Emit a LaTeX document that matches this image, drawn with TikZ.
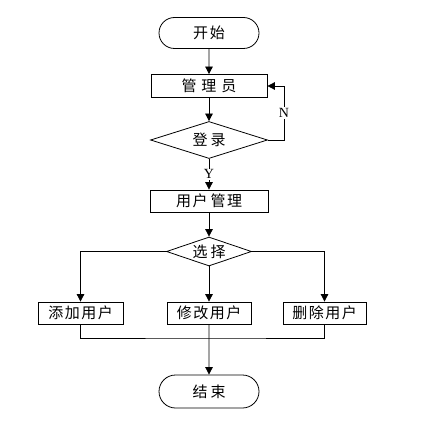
\documentclass[tikz,border=0pt]{standalone}
\usepackage{fontspec}
\setmainfont{Noto Sans CJK SC}
\newfontfamily\latf{Liberation Serif}
\usetikzlibrary{arrows.meta,shapes.geometric,shapes.misc}
\newcommand\gp[1]{\hspace{#1pt}}
\begin{document}
\begin{tikzpicture}[x=1pt,y=-1pt,
  every node/.style={font=\fontsize{15}{17}\selectfont, inner sep=0pt},
  term/.style={draw, rounded rectangle, minimum width=100pt, minimum height=31pt, line width=0.8pt},
  proc/.style={draw, rectangle, minimum height=22pt, line width=0.8pt},
  dec/.style={draw, diamond, aspect=3, line width=0.8pt},
  arr/.style={line width=0.8pt, -{Triangle[length=7.5pt,width=7.5pt]}},
  ln/.style={line width=0.8pt},
  lab/.style={fill=white, font=\latf\fontsize{14}{16}\selectfont, inner sep=1pt}]
\useasboundingbox (0,0) rectangle (422,422);
\node[term] (start) at (209,33) {开\gp{2}始};
\node[proc, minimum width=116pt, minimum height=23pt] (mgr) at (209,86) {管\gp{5}理\gp{5}员};
\node[dec, minimum width=117pt, minimum height=37pt] (login) at (209,140) {登\gp{3}录};
\node[proc, minimum width=118pt] (user) at (209,201) {用\gp{1.5}户\gp{3}管\gp{1.5}理};
\node[dec, minimum width=85pt, minimum height=29pt] (sel) at (209,251.5) {选\gp{3}择};
\node[proc, minimum width=85pt] (add) at (80.5,313) {添\gp{1.5}加\gp{1.5}用\gp{1.5}户};
\node[proc, minimum width=84pt] (mod) at (209,313) {修\gp{1.5}改\gp{1.5}用\gp{1.5}户};
\node[proc, minimum width=83pt] (del) at (324.5,313) {删\gp{1.5}除\gp{1.5}用\gp{1.5}户};
\node[term, minimum height=33pt] (end) at (209,391.5) {结\gp{3}束};
\coordinate (lp) at (284,140);
\coordinate (m) at (209,338);
\draw[arr] (start) -- (mgr);
\draw[arr] (mgr) -- (login);
\draw[arr] (login.east) -- (lp) |- node[pos=0.25, lab] {N} (mgr.east);
\draw[arr] (login) -- node[pos=0.5, lab] {Y} (user);
\draw[arr] (user) -- (sel);
\draw[arr] (sel.west) -| (add.north);
\draw[arr] (sel.east) -| (del.north);
\draw[arr] (sel) -- (mod);
\draw[ln] (add.south) |- (m) -| (del.south);
\draw[arr] (mod) -- (end);
\end{tikzpicture}
\end{document}
